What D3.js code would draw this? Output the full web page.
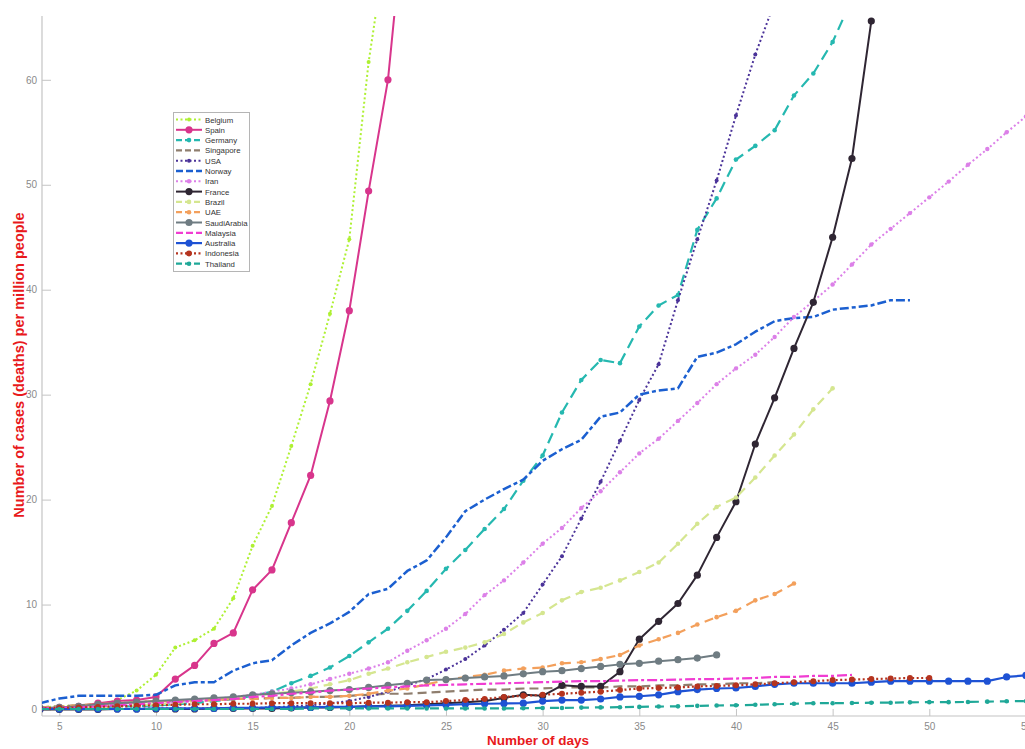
<!DOCTYPE html>
<html>
<head>
<meta charset="utf-8">
<script src="https://cdn.jsdelivr.net/npm/d3@7"></script>
<style>
  html, body { margin: 0; padding: 0; background: #fff; }
  svg { display: block; font-family: "Liberation Sans", Arial, sans-serif; }
</style>
</head>
<body>
<svg id="chart" width="1025" height="749"></svg>
<script>
// ---- data (values per million people), each series starts at day 4 ----
const startDay = 4;
const countries = ["Belgium","Spain","Germany","Singapore","USA","Norway","Iran","France","Brazil","UAE","SaudiArabia","Malaysia","Australia","Indonesia","Thailand"];

const belgium = [0.2,0.3,0.4,0.4,0.9,1.8,3.3,5.9,6.6,7.7,10.6,15.6,19.4,25.1,31.0,37.7,44.8,61.7,74.0];
const spain = [0.1,0.2,0.3,0.6,0.8,0.9,1.2,2.9,4.2,6.3,7.3,11.4,13.3,17.8,22.3,29.4,38.0,49.4,60.0,78.7];
const germany = [0.1,0.1,0.2,0.2,0.3,0.3,0.4,0.5,0.6,0.8,1.0,1.3,1.7,2.5,3.2,4.0,5.1,6.4,7.7,9.4,11.3,13.4,15.2,17.2,19.1,21.8,24.2,28.3,31.4,33.3,33.0,36.5,38.5,39.5,45.7,48.7,52.4,53.7,55.2,58.5,60.6,63.6,67.7];
const singapore = [0.2,0.3,0.4,0.5,0.6,0.7,0.8,0.8,0.9,0.9,1.0,1.0,1.1,1.1,1.2,1.2,1.3,1.4,1.5,1.5,1.6,1.7,1.8,1.9,1.9,2.0,2.0,2.1,2.1,2.1,2.2,2.2,2.3,2.3,2.4,2.4,2.5,2.5,2.6];
const usa = [0.05,0.05,0.05,0.05,0.05,0.1,0.1,0.1,0.1,0.1,0.1,0.15,0.2,0.3,0.4,0.6,0.8,1.2,1.7,2.3,2.9,3.8,4.8,6.1,7.6,9.2,11.9,14.6,18.2,21.7,25.6,29.5,32.9,39.0,44.8,50.4,56.6,62.4,67.4];
const norway = [0.6,1.05,1.3,1.3,1.3,1.3,1.4,2.3,2.6,2.6,3.7,4.4,4.7,6.1,7.3,8.2,9.3,11.0,11.5,13.2,14.2,16.4,18.9,20.0,21.0,21.9,23.7,24.8,25.7,27.9,28.3,30.0,30.4,30.6,33.6,34.0,34.8,36.0,37.0,37.3,37.4,38.1,38.3,38.5,39.0,39.0];
const iran = [0.1,0.15,0.2,0.3,0.4,0.5,0.6,0.7,0.9,1.0,1.2,1.4,1.7,2.0,2.4,2.9,3.4,3.9,4.5,5.6,6.6,7.7,9.1,10.9,12.3,14.0,15.8,17.3,19.2,20.8,22.6,24.4,25.8,27.5,29.2,31.0,32.5,33.8,35.5,37.4,38.9,40.5,42.4,44.3,45.8,47.3,48.8,50.3,51.9,53.4,55.0,56.5,58.0];
const france = [0,0,0,0,0.05,0.05,0.05,0.05,0.05,0.1,0.1,0.1,0.1,0.15,0.2,0.2,0.25,0.3,0.35,0.4,0.5,0.6,0.7,0.8,1.1,1.4,1.3,2.3,2.2,2.2,3.6,6.7,8.4,10.1,12.8,16.4,19.8,25.3,29.7,34.4,38.8,45.0,52.5,65.6];
const brazil = [0.1,0.1,0.2,0.2,0.3,0.4,0.5,0.6,0.8,0.9,1.1,1.3,1.5,1.7,2.0,2.4,2.8,3.4,3.9,4.5,5.0,5.5,5.9,6.4,7.2,8.3,9.2,10.4,11.2,11.6,12.3,13.1,14.0,15.8,17.7,19.3,20.2,22.1,24.2,26.2,28.6,30.6];
const uae = [0.2,0.3,0.4,0.5,0.6,0.7,0.8,0.8,0.9,0.9,1.0,1.0,1.1,1.1,1.2,1.2,1.3,1.5,1.8,2.0,2.4,2.8,3.1,3.3,3.7,3.9,4.0,4.4,4.5,4.8,5.2,6.1,6.7,7.3,8.1,8.8,9.4,10.4,11.0,12.0];
const saudiArabia = [0.15,0.2,0.3,0.5,0.6,0.7,0.8,0.9,1.0,1.1,1.2,1.4,1.5,1.6,1.7,1.8,1.9,2.1,2.3,2.5,2.8,2.85,3.0,3.1,3.2,3.4,3.6,3.7,3.9,4.1,4.3,4.4,4.6,4.75,4.9,5.2];
const malaysia = [0.1,0.15,0.2,0.3,0.4,0.5,0.6,0.7,0.8,0.9,1.0,1.2,1.3,1.5,1.6,1.8,1.9,2.0,2.1,2.2,2.3,2.35,2.4,2.45,2.5,2.55,2.6,2.65,2.7,2.7,2.75,2.8,2.8,2.85,2.9,2.9,2.95,3.0,3.1,3.1,3.2,3.2,3.3];
const australia = [0.05,0.05,0.05,0.05,0.05,0.05,0.1,0.1,0.1,0.1,0.15,0.15,0.2,0.2,0.2,0.25,0.25,0.3,0.3,0.35,0.4,0.45,0.5,0.55,0.57,0.6,0.8,0.9,0.9,1.0,1.2,1.26,1.4,1.7,1.9,2.0,2.05,2.2,2.4,2.5,2.5,2.5,2.5,2.6,2.7,2.7,2.7,2.7,2.7,2.7,3.1,3.25];
const indonesia = [0.1,0.15,0.2,0.25,0.3,0.35,0.4,0.45,0.5,0.5,0.55,0.55,0.6,0.6,0.6,0.6,0.6,0.65,0.65,0.7,0.7,0.8,0.9,1.0,1.2,1.3,1.4,1.5,1.6,1.7,1.85,2.0,2.05,2.1,2.2,2.25,2.3,2.4,2.5,2.6,2.7,2.8,2.85,2.9,2.95,3.0,3.0];
const thailand = [0.05,0.05,0.05,0.05,0.05,0.05,0.05,0.05,0.05,0.05,0.05,0.05,0.05,0.05,0.1,0.1,0.1,0.1,0.1,0.1,0.1,0.1,0.1,0.1,0.1,0.12,0.15,0.15,0.18,0.2,0.22,0.25,0.28,0.3,0.35,0.38,0.4,0.45,0.5,0.55,0.6,0.6,0.62,0.65,0.65,0.68,0.7,0.7,0.72,0.75,0.78,0.8];

const seriesValues = [belgium,spain,germany,singapore,usa,norway,iran,france,brazil,uae,saudiArabia,malaysia,australia,indonesia,thailand];
const xTicks = [5,10,15,20,25,30,35,40,45,50,55];
const yTicks = [0,10,20,30,40,50,60];
const xLabel = "Number of days";
const yLabel = "Number of cases (deaths) per million people";

// ---- styles ----
const styles = [
  {color:"#aef032", dash:"2,2.5", w:2,   marker:2},
  {color:"#d8358c", dash:null,    w:2,   marker:3.6},
  {color:"#25b8b0", dash:"11,6",  w:2.2, marker:2.3},
  {color:"#8f7e6e", dash:"9,5",   w:2.2, marker:0},
  {color:"#4b3399", dash:"2,2.5", w:2,   marker:2},
  {color:"#1b5fd0", dash:"9,3,4,3", w:2.5, marker:0},
  {color:"#dc80e8", dash:"2,2.5", w:2,   marker:2.2},
  {color:"#2f2633", dash:null,    w:2,   marker:3.6},
  {color:"#d5e690", dash:"9,6",   w:2.2, marker:2.3},
  {color:"#f3a05c", dash:"9,6",   w:2.2, marker:2.3},
  {color:"#6f7c82", dash:null,    w:2,   marker:3.6},
  {color:"#f03cd2", dash:"10,3,3,3", w:2.2, marker:0},
  {color:"#1e52d4", dash:null,    w:2.2, marker:3.6},
  {color:"#b5341f", dash:"2,2.5", w:2.2, marker:3},
  {color:"#1fa898", dash:"9,6",   w:2.2, marker:2.3}
];

const svg = d3.select("#chart");
const x = d3.scaleLinear().domain([5, 50]).range([59.3, 929.3]);
const y = d3.scaleLinear().domain([0, 60]).range([709.5, 79.8]);
const plotLeft = 42, plotTop = 16, plotBottom = 716, plotRight = 1025;
const axisColor = "#c4c4c4", tickText = "#8a8a8a";

svg.append("defs").append("clipPath").attr("id","plotclip")
  .append("rect").attr("x",plotLeft).attr("y",plotTop)
  .attr("width",plotRight-plotLeft+10).attr("height",plotBottom-plotTop);

// axes
const yAxis = d3.axisLeft(y).tickValues(yTicks).tickSizeInner(-9).tickSizeOuter(0).tickPadding(5);
const gy = svg.append("g").attr("transform",`translate(${plotLeft},0)`).call(yAxis);
const xAxis = d3.axisBottom(x).tickValues(xTicks).tickSizeInner(-7).tickSizeOuter(0).tickPadding(7);
const gx = svg.append("g").attr("transform",`translate(0,${plotBottom})`).call(xAxis);
[gx, gy].forEach(g => {
  g.select(".domain").remove();
  g.selectAll(".tick line").attr("stroke",axisColor).attr("stroke-width",1);
  g.selectAll(".tick text").attr("fill",tickText).attr("font-size",10)
    .attr("font-family","'Liberation Sans', Arial, sans-serif");
});
svg.append("line").attr("x1",plotLeft).attr("x2",plotLeft).attr("y1",plotTop).attr("y2",plotBottom)
  .attr("stroke",axisColor).attr("stroke-width",1.2);
svg.append("line").attr("x1",plotLeft).attr("x2",plotRight).attr("y1",plotBottom).attr("y2",plotBottom)
  .attr("stroke",axisColor).attr("stroke-width",1.2);

// axis labels
svg.append("text").attr("x",538).attr("y",745).attr("text-anchor","middle")
  .attr("fill","#e8191c").attr("font-weight","bold").attr("font-size",13.5).text(xLabel);
svg.append("text").attr("transform","translate(24,365) rotate(-90)").attr("text-anchor","middle")
  .attr("fill","#e8191c").attr("font-weight","bold").attr("font-size",14.5).text(yLabel);

// series
const plot = svg.append("g").attr("clip-path","url(#plotclip)");
const line = d3.line().x(d => x(d[0])).y(d => y(d[1]));
seriesValues.forEach((vals, i) => {
  const st = styles[i];
  const pts = vals.map((v, k) => [startDay + k, v]);
  const g = plot.append("g");
  g.append("path").datum(pts).attr("d", line).attr("fill","none")
    .attr("stroke", st.color).attr("stroke-width", st.w)
    .attr("stroke-dasharray", st.dash).attr("stroke-linejoin","round");
  if (st.marker > 0) {
    g.selectAll("circle").data(pts).join("circle")
      .attr("cx", d => x(d[0])).attr("cy", d => y(d[1])).attr("r", st.marker)
      .attr("fill", st.color);
  }
});

// legend
const lg = svg.append("g");
lg.append("rect").attr("x",173.5).attr("y",112.5).attr("width",76).attr("height",159)
  .attr("fill","#fff").attr("stroke","#b5b5b5").attr("stroke-width",1);
countries.forEach((name, i) => {
  const st = styles[i];
  const yy = 119.5 + i * 10.3;
  lg.append("line").attr("x1",176).attr("x2",202).attr("y1",yy).attr("y2",yy)
    .attr("stroke",st.color).attr("stroke-width",st.w)
    .attr("stroke-dasharray", st.dash ? (st.dash.split(",").length>2 ? "7,3" : (st.dash==="2,2.5" ? "2,2.5" : "6,3")) : null);
  if (st.marker > 0) lg.append("circle").attr("cx",189).attr("cy",yy).attr("r",st.marker).attr("fill",st.color);
  lg.append("text").attr("x",205).attr("y",yy+3).attr("font-size",7.8).attr("fill","#333").text(name);
});
</script>
</body>
</html>
